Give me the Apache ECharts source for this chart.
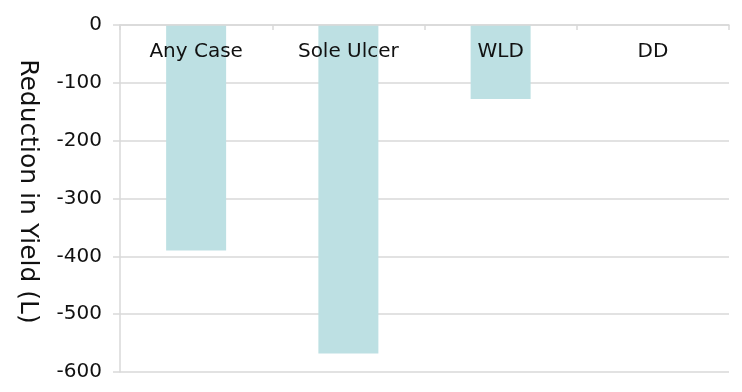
<!DOCTYPE html>
<html>
<head>
<meta charset="utf-8">
<script src="https://cdn.jsdelivr.net/npm/echarts@6/dist/echarts.min.js"></script>
<style>html,body{margin:0;padding:0;background:#fff;}#c{width:742px;height:392px;}</style>
</head>
<body>
<div id="c"></div>
<script>
const categories = ['Any Case', 'Sole Ulcer', 'WLD', 'DD'];
const values = [-390, -568, -128, 0];
const yTicks = { min: -600, max: 0, interval: 100 };
const yTitle = 'Reduction in Yield (L)';

const chart = echarts.init(document.getElementById('c'), null, { renderer: 'canvas' });
const font = 'DejaVu Sans, Verdana, sans-serif';
chart.setOption({
  animation: false,
  grid: { left: 120, right: 13, top: 25, bottom: 20, containLabel: false },
  xAxis: {
    type: 'category',
    data: categories,
    position: 'top',
    z: 10,
    axisLine: { show: true, onZero: true, lineStyle: { color: '#d9d9d9', width: 1.5 } },
    axisTick: { show: true, inside: true, length: 5, lineStyle: { color: '#d9d9d9', width: 1.5 } },
    axisLabel: { inside: true, margin: 17, color: '#111', fontSize: 20, fontFamily: font },
    splitLine: { show: false }
  },
  yAxis: {
    type: 'value',
    min: yTicks.min, max: yTicks.max, interval: yTicks.interval,
    name: yTitle,
    nameLocation: 'middle',
    nameRotate: -90,
    nameGap: 80,
    nameTextStyle: { fontSize: 25, color: '#111', fontFamily: font, padding: [0, 14, 0, 0] },
    axisLine: { show: true, lineStyle: { color: '#d9d9d9', width: 1.5 } },
    axisTick: { show: true, inside: false, length: 7, lineStyle: { color: '#d9d9d9', width: 1.5 } },
    axisLabel: { margin: 18, color: '#111', fontSize: 20, fontFamily: font },
    splitLine: { show: true, lineStyle: { color: '#d9d9d9', width: 1.5 } }
  },
  series: [{
    type: 'bar',
    data: values,
    barWidth: 60,
    z: 2,
    itemStyle: { color: '#bde0e3' }
  }]
});
</script>
</body>
</html>
